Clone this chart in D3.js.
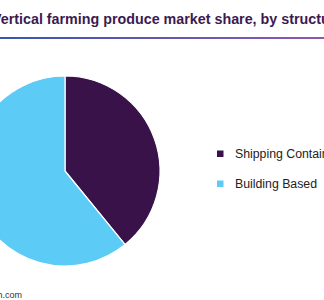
<!DOCTYPE html>
<html><head><meta charset="utf-8">
<script src="https://cdn.jsdelivr.net/npm/d3@7"></script>
<style>html,body{margin:0;padding:0;background:#fff;overflow:hidden}</style>
</head><body>
<svg id="c" width="324" height="300"></svg>
<script>
const title = "Vertical farming produce market share, by structure";
const categories = ["Shipping Container", "Building Based"];
const values = [39.1, 60.9];
const colors = ["#39124a", "#5ccbf5"];
const source = "Source: www.grandviewresearch.com";

const svg = d3.select("#c");
const defs = svg.append("defs");
const grad = defs.append("linearGradient").attr("id","g").attr("x1","0%").attr("x2","100%");
grad.append("stop").attr("offset","0%").attr("stop-color","#3a55b0");
grad.append("stop").attr("offset","100%").attr("stop-color","#8c58b4");

svg.append("text").attr("x", -8).attr("y", 24)
  .attr("font-family","Liberation Sans, Arial, sans-serif").attr("font-weight","bold")
  .attr("font-size", 14.3).attr("fill","#3b1a52").text(title);
svg.append("rect").attr("x",0).attr("y",37).attr("width",324).attr("height",2).attr("fill","url(#g)");

const cx = 65, cy = 171, r = 95;
const pie = d3.pie().sort(null).value(d => d)(values);
const arc = d3.arc().innerRadius(0).outerRadius(r);
const g = svg.append("g").attr("transform", `translate(${cx},${cy})`);
g.selectAll("path").data(pie).join("path")
  .attr("d", arc).attr("fill", (d,i) => colors[i])
  .attr("stroke","#fff").attr("stroke-width",1.2).attr("stroke-linejoin","round");

const lg = svg.append("g");
const ly = [150.5, 180.5];
categories.forEach((c,i) => {
  lg.append("rect").attr("x",217).attr("y",ly[i]).attr("width",6.5).attr("height",6.5).attr("fill",colors[i]);
  lg.append("text").attr("x",235).attr("y",ly[i]+7.5)
    .attr("font-family","Liberation Sans, Arial, sans-serif").attr("font-size",12.3)
    .attr("fill","#222").text(c);
});

svg.append("text").attr("x",22).attr("y",298).attr("text-anchor","end")
  .attr("font-family","Liberation Sans, Arial, sans-serif").attr("font-size",9)
  .attr("fill","#333").text(source);
</script>
</body></html>
